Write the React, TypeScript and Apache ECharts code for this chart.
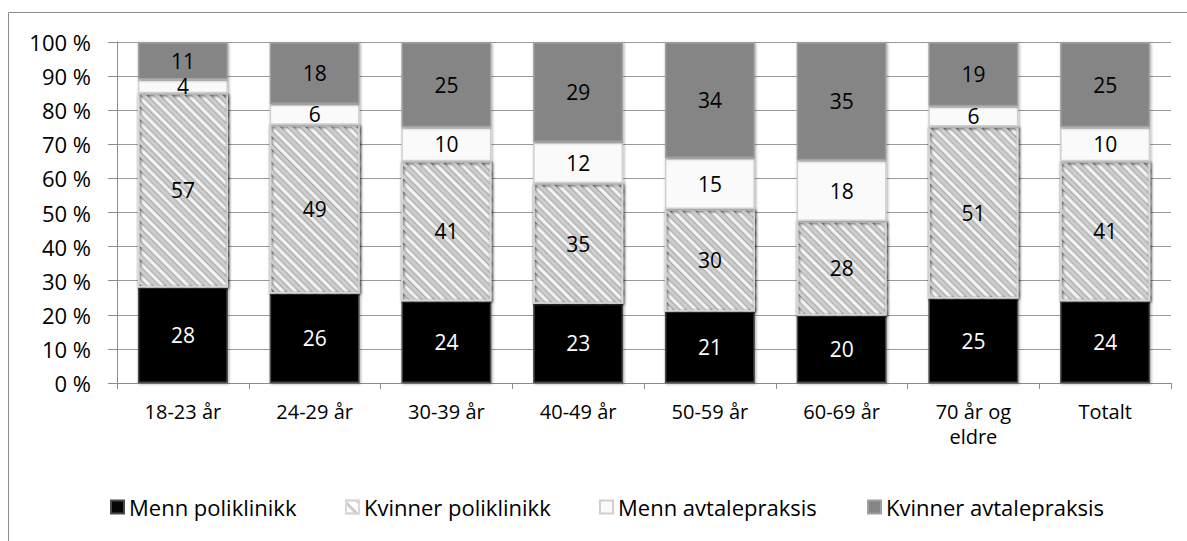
import React, { useEffect, useRef } from "react";
import * as echarts from "echarts";

const categories = ["18-23 år", "24-29 år", "30-39 år", "40-49 år", "50-59 år", "60-69 år", "70 år og\neldre", "Totalt"];
const seriesNames = ["Menn poliklinikk", "Kvinner poliklinikk", "Menn avtalepraksis", "Kvinner avtalepraksis"];
const mennPoliklinikk = [28, 26, 24, 23, 21, 20, 25, 24];
const kvinnerPoliklinikk = [57, 49, 41, 35, 30, 28, 51, 41];
const mennAvtalepraksis = [4, 6, 10, 12, 15, 18, 6, 10];
const kvinnerAvtalepraksis = [11, 18, 25, 29, 34, 35, 19, 25];
const yTicks = [0, 10, 20, 30, 40, 50, 60, 70, 80, 90, 100];

const FONT = "Open Sans";

export default function App() {
  const ref = useRef<HTMLDivElement>(null);
  useEffect(() => {
    document.body.style.margin = "0";
    if (!ref.current) return;
    const chart = echarts.init(ref.current, undefined, { renderer: "svg" });
    const all = [mennPoliklinikk, kvinnerPoliklinikk, mennAvtalepraksis, kvinnerAvtalepraksis];
    const sums = categories.map((_, i) => all.reduce((s, arr) => s + arr[i], 0));
    const styles = [
      { color: "#050505", borderColor: "#4a4a4a" },
      {
        color: "#ffffff",
        borderColor: "#d8d8d8",
        decal: {
          symbol: "rect",
          symbolSize: 1,
          color: "#cccccc",
          dashArrayX: [1, 0],
          dashArrayY: [2.5, 6],
          rotation: Math.PI / 4,
        },
      },
      { color: "#fafafa", borderColor: "#d0d0d0" },
      { color: "#858585", borderColor: "#a0a0a0" },
    ];
    const labelColors = ["#ffffff", "#000000", "#000000", "#000000"];
    const series = all.map((arr, si) => ({
      name: seriesNames[si],
      type: "bar",
      stack: "total",
      barWidth: 90,
      data: arr.map((v, i) => ({ value: (v / sums[i]) * 100 })),
      itemStyle: {
        ...styles[si],
        borderWidth: 1.5,
        shadowColor: "rgba(0,0,0,0.35)",
        shadowBlur: 3,
        shadowOffsetX: 1,
        shadowOffsetY: 1,
      },
      label: {
        show: true,
        position: "inside",
        color: labelColors[si],
        fontFamily: FONT,
        fontSize: 21,
        formatter: (p: any) => String(arr[p.dataIndex]),
      },
    }));
    const legendLefts = [110, 345, 599, 867];
    const legends = seriesNames.map((name, i) => ({
      data: [name],
      left: legendLefts[i],
      top: 496,
      padding: 0,
      icon: "rect",
      itemWidth: 13,
      itemHeight: 13,
      textStyle: { color: "#000", fontFamily: FONT, fontSize: 22, padding: [0, 0, 0, 0] },
    }));
    chart.setOption({
      animation: false,
      backgroundColor: "#ffffff",
      textStyle: { fontFamily: FONT },
      grid: { left: 117, right: 16, top: 42, bottom: 158, containLabel: false },
      graphic: [
        {
          type: "rect",
          shape: { x: 8.5, y: 12.5, width: 1300, height: 700 },
          style: { fill: "none", stroke: "#8c8c8c", lineWidth: 1 },
          silent: true,
          z: -10,
        },
      ],
      xAxis: {
        type: "category",
        data: categories,
        axisLine: { lineStyle: { color: "#8c8c8c", width: 1 } },
        axisTick: { show: true, length: 6, lineStyle: { color: "#8c8c8c" } },
        axisLabel: { color: "#000", fontFamily: FONT, fontSize: 20, margin: 16, lineHeight: 25 },
      },
      yAxis: {
        type: "value",
        min: yTicks[0],
        max: yTicks[yTicks.length - 1],
        interval: 10,
        axisLine: { show: true, lineStyle: { color: "#8c8c8c" } },
        axisTick: { show: true, length: 9, lineStyle: { color: "#8c8c8c" } },
        splitLine: { lineStyle: { color: "#9a9a9a", width: 1 } },
        axisLabel: { color: "#000", fontFamily: FONT, fontSize: 22, margin: 26, formatter: (v: number) => `${v} %` },
      },
      legend: legends,
      series,
    });
    return () => chart.dispose();
  }, []);
  return <div ref={ref} style={{ width: 1187, height: 541 }} />;
}
